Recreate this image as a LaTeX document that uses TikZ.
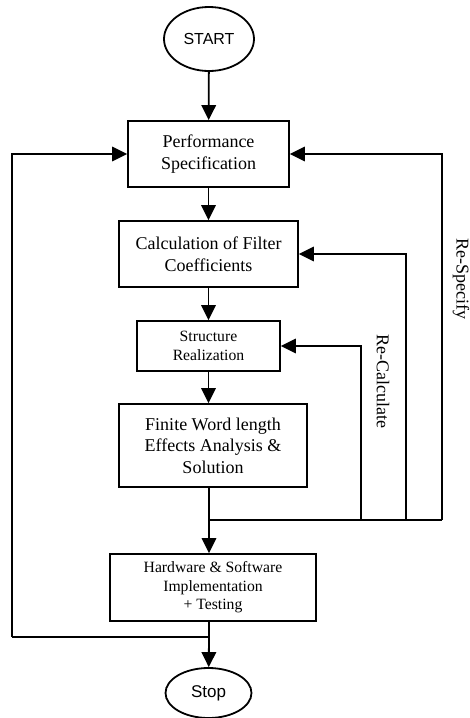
\documentclass[tikz,border=0pt]{standalone}
\usepackage{fontspec}
\setmainfont{Liberation Serif}
\newfontfamily\arialf{Liberation Sans}
\usetikzlibrary{shapes.geometric,arrows.meta}
\tikzset{
  box/.style={draw, line width=1.8pt, inner sep=0pt, align=center},
  big/.style={font=\fontsize{18}{21.5}\selectfont},
  small/.style={font=\fontsize{15.7}{18.4}\selectfont},
  oval/.style={draw, ellipse, line width=1.8pt, inner sep=0pt},
  ln/.style={line width=1.8pt},
  arr/.style={line width=1.8pt, -{Triangle[length=15pt,width=14.5pt]}},
  lbl/.style={font=\fontsize{18}{21.5}\selectfont, rotate=-90, inner sep=0pt}
}
\begin{document}
\begin{tikzpicture}[x=1pt,y=-1pt]
\useasboundingbox (0,0) rectangle (470,718);
\node[oval, minimum width=90pt, minimum height=64pt, font=\arialf\fontsize{16}{18}\selectfont] (start) at (209,39) {START};
\node[box, big, minimum width=161pt, minimum height=66pt] (perf) at (208.5,154) {Performance\\Specification};
\node[box, big, minimum width=179pt, minimum height=66pt] (calc) at (208.5,254) {Calculation of Filter\\Coefficients};
\node[box, small, minimum width=143pt, minimum height=50pt] (struct) at (208.5,346) {Structure\\Realization};
\node[box, big, minimum width=188pt, minimum height=83pt] (fin) at (213,445.5) {Finite Word length\\Effects Analysis \&\\Solution};
\node[box, small, minimum width=206pt, minimum height=67pt] (hw) at (213,587.5) {Hardware \& Software\\Implementation\\+ Testing};
\node[oval, minimum width=86pt, minimum height=50pt, font=\arialf\fontsize{17}{19}\selectfont] (stop) at (208.5,693) {Stop};

\coordinate (j1) at (209,520);
\coordinate (j2) at (209,637);
\coordinate (r1) at (361,520);
\coordinate (r2) at (406,520);
\coordinate (r3) at (442,520);
\coordinate (l1) at (12,637);

\draw[arr] (start) -- (perf);
\draw[arr] (perf) -- (calc);
\draw[arr] (calc) -- (struct);
\draw[arr] (struct) -- (struct |- fin.north);
\draw[ln] (j1 |- fin.south) -- (j1) -- (r3);
\draw[arr] (j1) -- (j1 |- hw.north);
\draw[ln] (j2 |- hw.south) -- (j2) -- (l1);
\draw[arr] (j2) -- (stop);
\draw[arr] (l1) |- (perf.west);
\draw[arr] (r3) |- (perf.east);
\draw[arr] (r2) |- (calc.east);
\draw[arr] (r1) |- (struct.east);

\node[lbl] (recalc) at (383,381) {Re-Calculate};
\node[lbl] (respec) at (461,279) {Re-Specify};
\end{tikzpicture}
\end{document}
